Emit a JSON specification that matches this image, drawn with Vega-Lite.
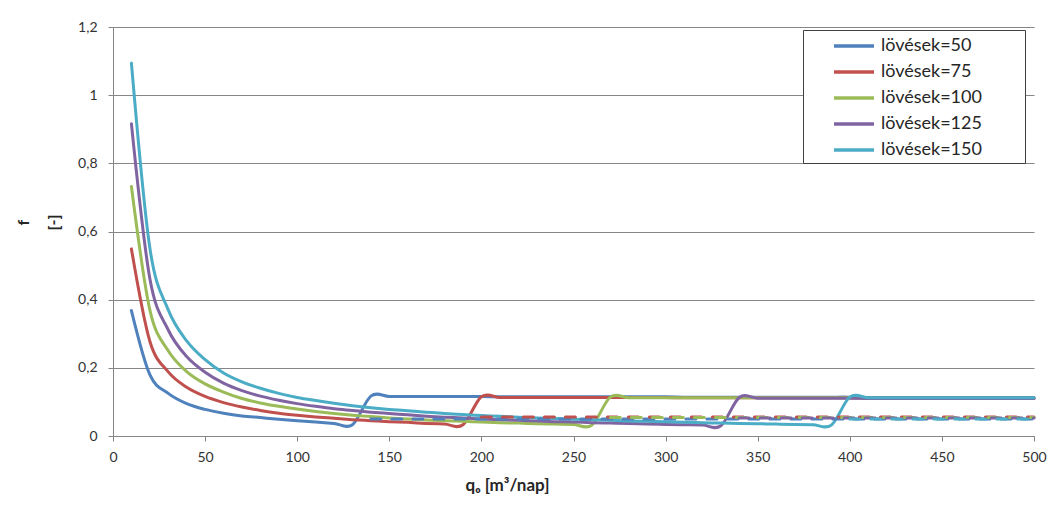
{
"$schema": "https://vega.github.io/schema/vega-lite/v6.json",
"width": 921, "height": 409,
"autosize": "none",
"padding": {"left": 113, "top": 27, "right": 25, "bottom": 69},
"background": "white",
"config": {"view": {"stroke": null}, "font": "Lato"},
"datasets": {
"solid": [
{"series":50,"q":10,"f":0.368},{"series":50,"q":20,"f":0.180},{"series":50,"q":30,"f":0.125},{"series":50,"q":40,"f":0.095},{"series":50,"q":50,"f":0.078},{"series":50,"q":60,"f":0.067},{"series":50,"q":70,"f":0.059},{"series":50,"q":80,"f":0.054},{"series":50,"q":90,"f":0.049},{"series":50,"q":100,"f":0.045},{"series":50,"q":110,"f":0.041},{"series":50,"q":120,"f":0.037},{"series":50,"q":130,"f":0.033},{"series":50,"q":140,"f":0.117},{"series":50,"q":150,"f":0.116},{"series":50,"q":160,"f":0.116},{"series":50,"q":170,"f":0.116},{"series":50,"q":180,"f":0.116},{"series":50,"q":190,"f":0.116},{"series":50,"q":200,"f":0.116},{"series":50,"q":210,"f":0.115},{"series":50,"q":220,"f":0.115},{"series":50,"q":230,"f":0.115},{"series":50,"q":240,"f":0.115},{"series":50,"q":250,"f":0.115},{"series":50,"q":260,"f":0.115},{"series":50,"q":270,"f":0.115},{"series":50,"q":280,"f":0.115},{"series":50,"q":290,"f":0.115},{"series":50,"q":300,"f":0.115},{"series":50,"q":310,"f":0.114},{"series":50,"q":320,"f":0.114},{"series":50,"q":330,"f":0.114},{"series":50,"q":340,"f":0.114},{"series":50,"q":350,"f":0.114},{"series":50,"q":360,"f":0.114},{"series":50,"q":370,"f":0.114},{"series":50,"q":380,"f":0.114},{"series":50,"q":390,"f":0.114},{"series":50,"q":400,"f":0.114},{"series":50,"q":410,"f":0.113},{"series":50,"q":420,"f":0.113},{"series":50,"q":430,"f":0.113},{"series":50,"q":440,"f":0.113},{"series":50,"q":450,"f":0.113},{"series":50,"q":460,"f":0.113},{"series":50,"q":470,"f":0.113},{"series":50,"q":480,"f":0.113},{"series":50,"q":490,"f":0.113},{"series":50,"q":500,"f":0.113},
{"series":75,"q":10,"f":0.549},{"series":75,"q":20,"f":0.278},{"series":75,"q":30,"f":0.188},{"series":75,"q":40,"f":0.143},{"series":75,"q":50,"f":0.116},{"series":75,"q":60,"f":0.098},{"series":75,"q":70,"f":0.085},{"series":75,"q":80,"f":0.075},{"series":75,"q":90,"f":0.067},{"series":75,"q":100,"f":0.061},{"series":75,"q":110,"f":0.056},{"series":75,"q":120,"f":0.052},{"series":75,"q":130,"f":0.048},{"series":75,"q":140,"f":0.045},{"series":75,"q":150,"f":0.042},{"series":75,"q":160,"f":0.040},{"series":75,"q":170,"f":0.037},{"series":75,"q":180,"f":0.035},{"series":75,"q":190,"f":0.033},{"series":75,"q":200,"f":0.115},{"series":75,"q":210,"f":0.113},{"series":75,"q":220,"f":0.113},{"series":75,"q":230,"f":0.113},{"series":75,"q":240,"f":0.113},{"series":75,"q":250,"f":0.113},{"series":75,"q":260,"f":0.113},{"series":75,"q":270,"f":0.113},{"series":75,"q":280,"f":0.113},{"series":75,"q":290,"f":0.113},{"series":75,"q":300,"f":0.113},{"series":75,"q":310,"f":0.112},{"series":75,"q":320,"f":0.112},{"series":75,"q":330,"f":0.112},{"series":75,"q":340,"f":0.112},{"series":75,"q":350,"f":0.112},{"series":75,"q":360,"f":0.112},{"series":75,"q":370,"f":0.112},{"series":75,"q":380,"f":0.112},{"series":75,"q":390,"f":0.112},{"series":75,"q":400,"f":0.112},{"series":75,"q":410,"f":0.111},{"series":75,"q":420,"f":0.111},{"series":75,"q":430,"f":0.111},{"series":75,"q":440,"f":0.111},{"series":75,"q":450,"f":0.111},{"series":75,"q":460,"f":0.111},{"series":75,"q":470,"f":0.111},{"series":75,"q":480,"f":0.111},{"series":75,"q":490,"f":0.111},{"series":75,"q":500,"f":0.111},
{"series":100,"q":10,"f":0.732},{"series":100,"q":20,"f":0.370},{"series":100,"q":30,"f":0.250},{"series":100,"q":40,"f":0.189},{"series":100,"q":50,"f":0.153},{"series":100,"q":60,"f":0.129},{"series":100,"q":70,"f":0.110},{"series":100,"q":80,"f":0.097},{"series":100,"q":90,"f":0.087},{"series":100,"q":100,"f":0.079},{"series":100,"q":110,"f":0.072},{"series":100,"q":120,"f":0.066},{"series":100,"q":130,"f":0.061},{"series":100,"q":140,"f":0.057},{"series":100,"q":150,"f":0.053},{"series":100,"q":160,"f":0.050},{"series":100,"q":170,"f":0.047},{"series":100,"q":180,"f":0.045},{"series":100,"q":190,"f":0.043},{"series":100,"q":200,"f":0.041},{"series":100,"q":210,"f":0.039},{"series":100,"q":220,"f":0.038},{"series":100,"q":230,"f":0.036},{"series":100,"q":240,"f":0.035},{"series":100,"q":250,"f":0.034},{"series":100,"q":260,"f":0.032},{"series":100,"q":270,"f":0.114},{"series":100,"q":280,"f":0.112},{"series":100,"q":290,"f":0.112},{"series":100,"q":300,"f":0.112},{"series":100,"q":310,"f":0.112},{"series":100,"q":320,"f":0.112},{"series":100,"q":330,"f":0.112},{"series":100,"q":340,"f":0.112},{"series":100,"q":350,"f":0.112},{"series":100,"q":360,"f":0.112},{"series":100,"q":370,"f":0.112},{"series":100,"q":380,"f":0.112},{"series":100,"q":390,"f":0.112},{"series":100,"q":400,"f":0.112},{"series":100,"q":410,"f":0.111},{"series":100,"q":420,"f":0.111},{"series":100,"q":430,"f":0.111},{"series":100,"q":440,"f":0.111},{"series":100,"q":450,"f":0.111},{"series":100,"q":460,"f":0.111},{"series":100,"q":470,"f":0.111},{"series":100,"q":480,"f":0.111},{"series":100,"q":490,"f":0.111},{"series":100,"q":500,"f":0.111},
{"series":125,"q":10,"f":0.916},{"series":125,"q":20,"f":0.462},{"series":125,"q":30,"f":0.311},{"series":125,"q":40,"f":0.233},{"series":125,"q":50,"f":0.187},{"series":125,"q":60,"f":0.155},{"series":125,"q":70,"f":0.133},{"series":125,"q":80,"f":0.117},{"series":125,"q":90,"f":0.105},{"series":125,"q":100,"f":0.095},{"series":125,"q":110,"f":0.087},{"series":125,"q":120,"f":0.080},{"series":125,"q":130,"f":0.075},{"series":125,"q":140,"f":0.070},{"series":125,"q":150,"f":0.066},{"series":125,"q":160,"f":0.062},{"series":125,"q":170,"f":0.058},{"series":125,"q":180,"f":0.055},{"series":125,"q":190,"f":0.053},{"series":125,"q":200,"f":0.050},{"series":125,"q":210,"f":0.048},{"series":125,"q":220,"f":0.046},{"series":125,"q":230,"f":0.044},{"series":125,"q":240,"f":0.042},{"series":125,"q":250,"f":0.041},{"series":125,"q":260,"f":0.039},{"series":125,"q":270,"f":0.038},{"series":125,"q":280,"f":0.037},{"series":125,"q":290,"f":0.035},{"series":125,"q":300,"f":0.034},{"series":125,"q":310,"f":0.033},{"series":125,"q":320,"f":0.032},{"series":125,"q":330,"f":0.030},{"series":125,"q":340,"f":0.113},{"series":125,"q":350,"f":0.111},{"series":125,"q":360,"f":0.111},{"series":125,"q":370,"f":0.111},{"series":125,"q":380,"f":0.111},{"series":125,"q":390,"f":0.111},{"series":125,"q":400,"f":0.111},{"series":125,"q":410,"f":0.110},{"series":125,"q":420,"f":0.110},{"series":125,"q":430,"f":0.110},{"series":125,"q":440,"f":0.110},{"series":125,"q":450,"f":0.110},{"series":125,"q":460,"f":0.110},{"series":125,"q":470,"f":0.110},{"series":125,"q":480,"f":0.110},{"series":125,"q":490,"f":0.110},{"series":125,"q":500,"f":0.110},
{"series":150,"q":10,"f":1.094},{"series":150,"q":20,"f":0.552},{"series":150,"q":30,"f":0.370},{"series":150,"q":40,"f":0.279},{"series":150,"q":50,"f":0.224},{"series":150,"q":60,"f":0.185},{"series":150,"q":70,"f":0.159},{"series":150,"q":80,"f":0.140},{"series":150,"q":90,"f":0.125},{"series":150,"q":100,"f":0.113},{"series":150,"q":110,"f":0.104},{"series":150,"q":120,"f":0.096},{"series":150,"q":130,"f":0.089},{"series":150,"q":140,"f":0.083},{"series":150,"q":150,"f":0.078},{"series":150,"q":160,"f":0.074},{"series":150,"q":170,"f":0.070},{"series":150,"q":180,"f":0.066},{"series":150,"q":190,"f":0.063},{"series":150,"q":200,"f":0.060},{"series":150,"q":210,"f":0.058},{"series":150,"q":220,"f":0.055},{"series":150,"q":230,"f":0.053},{"series":150,"q":240,"f":0.051},{"series":150,"q":250,"f":0.049},{"series":150,"q":260,"f":0.048},{"series":150,"q":270,"f":0.046},{"series":150,"q":280,"f":0.044},{"series":150,"q":290,"f":0.043},{"series":150,"q":300,"f":0.042},{"series":150,"q":310,"f":0.040},{"series":150,"q":320,"f":0.039},{"series":150,"q":330,"f":0.038},{"series":150,"q":340,"f":0.037},{"series":150,"q":350,"f":0.036},{"series":150,"q":360,"f":0.035},{"series":150,"q":370,"f":0.034},{"series":150,"q":380,"f":0.033},{"series":150,"q":390,"f":0.032},{"series":150,"q":400,"f":0.114},{"series":150,"q":410,"f":0.112},{"series":150,"q":420,"f":0.112},{"series":150,"q":430,"f":0.112},{"series":150,"q":440,"f":0.112},{"series":150,"q":450,"f":0.112},{"series":150,"q":460,"f":0.112},{"series":150,"q":470,"f":0.112},{"series":150,"q":480,"f":0.112},{"series":150,"q":490,"f":0.112},{"series":150,"q":500,"f":0.112}
],
"dashed": [
{"series":50,"q":140,"f":0.050},{"series":50,"q":150,"f":0.050},{"series":50,"q":160,"f":0.050},{"series":50,"q":170,"f":0.050},{"series":50,"q":180,"f":0.050},{"series":50,"q":190,"f":0.050},{"series":50,"q":200,"f":0.050},{"series":50,"q":210,"f":0.050},{"series":50,"q":220,"f":0.050},{"series":50,"q":230,"f":0.050},{"series":50,"q":240,"f":0.050},{"series":50,"q":250,"f":0.050},{"series":50,"q":260,"f":0.050},{"series":50,"q":270,"f":0.050},{"series":50,"q":280,"f":0.050},{"series":50,"q":290,"f":0.050},{"series":50,"q":300,"f":0.050},{"series":50,"q":310,"f":0.050},{"series":50,"q":320,"f":0.050},{"series":50,"q":330,"f":0.050},{"series":50,"q":340,"f":0.050},{"series":50,"q":350,"f":0.050},{"series":50,"q":360,"f":0.050},{"series":50,"q":370,"f":0.050},{"series":50,"q":380,"f":0.050},{"series":50,"q":390,"f":0.050},{"series":50,"q":400,"f":0.050},{"series":50,"q":410,"f":0.050},{"series":50,"q":420,"f":0.050},{"series":50,"q":430,"f":0.050},{"series":50,"q":440,"f":0.050},{"series":50,"q":450,"f":0.050},{"series":50,"q":460,"f":0.050},{"series":50,"q":470,"f":0.050},{"series":50,"q":480,"f":0.050},{"series":50,"q":490,"f":0.050},{"series":50,"q":500,"f":0.050},
{"series":75,"q":200,"f":0.056},{"series":75,"q":210,"f":0.056},{"series":75,"q":220,"f":0.056},{"series":75,"q":230,"f":0.056},{"series":75,"q":240,"f":0.056},{"series":75,"q":250,"f":0.056},{"series":75,"q":260,"f":0.056},{"series":75,"q":270,"f":0.056},{"series":75,"q":280,"f":0.056},{"series":75,"q":290,"f":0.056},{"series":75,"q":300,"f":0.056},{"series":75,"q":310,"f":0.056},{"series":75,"q":320,"f":0.056},{"series":75,"q":330,"f":0.056},{"series":75,"q":340,"f":0.056},{"series":75,"q":350,"f":0.056},{"series":75,"q":360,"f":0.056},{"series":75,"q":370,"f":0.056},{"series":75,"q":380,"f":0.056},{"series":75,"q":390,"f":0.056},{"series":75,"q":400,"f":0.056},{"series":75,"q":410,"f":0.056},{"series":75,"q":420,"f":0.056},{"series":75,"q":430,"f":0.056},{"series":75,"q":440,"f":0.056},{"series":75,"q":450,"f":0.056},{"series":75,"q":460,"f":0.056},{"series":75,"q":470,"f":0.056},{"series":75,"q":480,"f":0.056},{"series":75,"q":490,"f":0.056},{"series":75,"q":500,"f":0.056},
{"series":100,"q":270,"f":0.054},{"series":100,"q":280,"f":0.054},{"series":100,"q":290,"f":0.054},{"series":100,"q":300,"f":0.054},{"series":100,"q":310,"f":0.054},{"series":100,"q":320,"f":0.054},{"series":100,"q":330,"f":0.054},{"series":100,"q":340,"f":0.054},{"series":100,"q":350,"f":0.054},{"series":100,"q":360,"f":0.054},{"series":100,"q":370,"f":0.054},{"series":100,"q":380,"f":0.054},{"series":100,"q":390,"f":0.054},{"series":100,"q":400,"f":0.054},{"series":100,"q":410,"f":0.054},{"series":100,"q":420,"f":0.054},{"series":100,"q":430,"f":0.054},{"series":100,"q":440,"f":0.054},{"series":100,"q":450,"f":0.054},{"series":100,"q":460,"f":0.054},{"series":100,"q":470,"f":0.054},{"series":100,"q":480,"f":0.054},{"series":100,"q":490,"f":0.054},{"series":100,"q":500,"f":0.054},
{"series":125,"q":340,"f":0.053},{"series":125,"q":350,"f":0.053},{"series":125,"q":360,"f":0.053},{"series":125,"q":370,"f":0.053},{"series":125,"q":380,"f":0.053},{"series":125,"q":390,"f":0.053},{"series":125,"q":400,"f":0.053},{"series":125,"q":410,"f":0.053},{"series":125,"q":420,"f":0.053},{"series":125,"q":430,"f":0.053},{"series":125,"q":440,"f":0.053},{"series":125,"q":450,"f":0.053},{"series":125,"q":460,"f":0.053},{"series":125,"q":470,"f":0.053},{"series":125,"q":480,"f":0.053},{"series":125,"q":490,"f":0.053},{"series":125,"q":500,"f":0.053},
{"series":150,"q":400,"f":0.050},{"series":150,"q":410,"f":0.050},{"series":150,"q":420,"f":0.050},{"series":150,"q":430,"f":0.050},{"series":150,"q":440,"f":0.050},{"series":150,"q":450,"f":0.050},{"series":150,"q":460,"f":0.050},{"series":150,"q":470,"f":0.050},{"series":150,"q":480,"f":0.050},{"series":150,"q":490,"f":0.050},{"series":150,"q":500,"f":0.050}
]
},
"encoding": {
"x": {"field": "q", "type": "quantitative",
 "scale": {"domain": [0, 500], "nice": false, "zero": false},
 "axis": {"values": [0,50,100,150,200,250,300,350,400,450,500], "grid": false,
  "title": "qₒ [m³/nap]", "titleFont": "Lato", "titleFontSize": 17, "titleFontWeight": "bold", "titleColor": "#262626",
  "titleX": 394, "titlePadding": 13,
  "labelFont": "Lato", "labelFontSize": 14, "labelColor": "#333333", "labelPadding": 9,
  "domainColor": "#868686", "tickColor": "#868686", "tickSize": 5, "labelFlush": false}},
"y": {"field": "f", "type": "quantitative",
 "scale": {"domain": [0, 1.2], "nice": false},
 "axis": {"values": [0,0.2,0.4,0.6,0.8,1,1.2], "grid": true, "gridColor": "#868686", "gridWidth": 1,
  "labelExpr": "replace(format(datum.value, '~g'), '.', ',')",
  "title": ["f", "[-]"], "titleFont": "Lato", "titleFontSize": 16, "titleFontWeight": "bold", "titleColor": "#262626",
  "titleLineHeight": 30, "titlePadding": 16, "titleY": 195,
  "labelFont": "Lato", "labelFontSize": 14, "labelColor": "#333333", "labelPadding": 11,
  "domainColor": "#868686", "tickColor": "#868686", "tickSize": 5}},
"color": {"field": "series", "type": "nominal",
 "scale": {"domain": [50, 75, 100, 125, 150], "range": ["#4F81BD", "#C0504D", "#9BBB59", "#8064A2", "#4BACC6"]},
 "legend": {"orient": "none", "legendX": 690, "legendY": 3, "direction": "vertical", "title": null,
  "labelExpr": "'lövések=' + datum.label + '\u2800\u2800\u2800'",
  "labelLimit": 300,
  "symbolType": "M-2,0L2,0", "symbolSize": 400, "symbolStrokeWidth": 3.5, "symbolOffset": 35,
  "labelFont": "Lato", "labelFontSize": 18, "labelColor": "#262626", "labelOffset": 15,
  "padding": 4, "rowPadding": 5, "strokeColor": "#404040", "fillColor": "white"}}
},
"layer": [
{"data": {"name": "solid"},
 "mark": {"type": "line", "interpolate": "cardinal", "tension": 0, "strokeWidth": 3, "strokeCap": "round", "strokeJoin": "round"}},
{"data": {"name": "dashed"},
 "mark": {"type": "line", "interpolate": "cardinal", "tension": 0, "strokeWidth": 3, "strokeCap": "round", "strokeDash": [10, 11]}}
]
}
